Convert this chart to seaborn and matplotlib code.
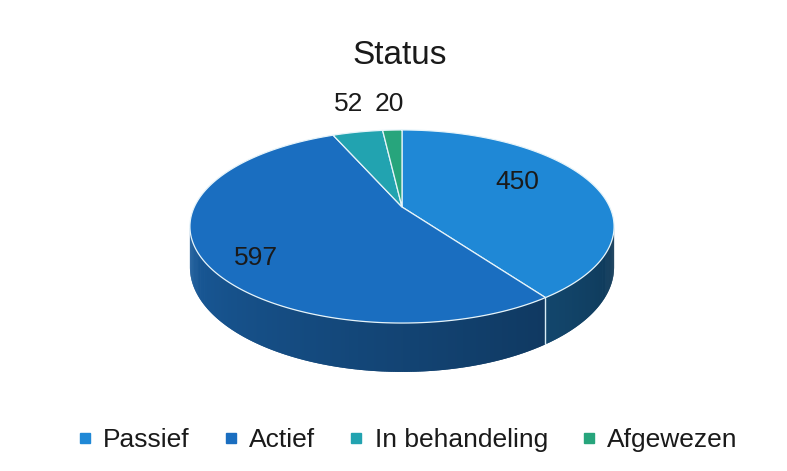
import numpy as np
import matplotlib.pyplot as plt
from matplotlib.patches import Polygon
from matplotlib.lines import Line2D
import seaborn as sns

# data
categories = ["Passief", "Actief", "In behandeling", "Afgewezen"]
values = [450, 597, 52, 20]
top_colors = ["#1f88d6", "#1a6ec0", "#22a3b0", "#27a57c"]
title = "Status"

sns.set_theme(style="white")
plt.rcParams['font.family'] = ['Liberation Sans', 'DejaVu Sans']

fig = plt.figure(figsize=(7.87, 4.71), dpi=100)
ax = fig.add_axes([0, 0, 1, 1])
ax.set_xlim(0, 787)
ax.set_ylim(471, 0)
ax.axis('off')

# pie geometry in pixel space, simple perspective (front wider than back)
cx, cy, a, b, k, h = 402, 207, 207.7, 92.6, 0.202, 39


def rim(theta, drop=0.0):
    t = np.radians(theta)
    u, w = np.cos(t), np.sin(t)
    s = 1.0 / (1.0 + k * w)
    return cx + a * u * s, cy - b * w * s + drop * h * s


total = sum(values)
angles = 90 - 360 * np.cumsum([0] + values) / total
sil_lo = -180 + np.degrees(np.arcsin(k))   # silhouette of the side
sil_hi = -np.degrees(np.arcsin(k))

# side of the cylinder
for i, col in enumerate(top_colors):
    lo, hi = max(angles[i + 1], sil_lo), min(angles[i], sil_hi)
    if lo >= hi:
        continue
    steps = np.linspace(lo, hi, int((hi - lo) / 0.5) + 2)
    base = np.array(sns.desaturate(col, 0.95))
    for j, (t1, t2) in enumerate(zip(steps[:-1], steps[1:])):
        tm = (t1 + t2) / 2
        f = 0.4 + 0.43 * (-tm - 12) / 156
        c = np.clip(base * f, 0, 1)
        t2e = min(t2 + 0.5, hi)
        x1, y1 = rim(t1)
        x2, y2 = rim(t2e)
        x3, y3 = rim(t2e, 1)
        x4, y4 = rim(t1, 1)
        ax.add_patch(Polygon([(x1, y1), (x2, y2), (x3, y3), (x4, y4)],
                             closed=True, facecolor=c, edgecolor="none", lw=0))
    if sil_lo < angles[i] < sil_hi:
        x, y = rim(angles[i])
        x2, y2 = rim(angles[i], 1)
        ax.plot([x, x2], [y, y2], color="#d8ecf5", lw=1)

# top face
for i, col in enumerate(top_colors):
    th = np.linspace(angles[i], angles[i + 1], 200)
    xs, ys = rim(th)
    pts = [(cx, cy)] + list(zip(xs, ys))
    ax.add_patch(Polygon(pts, closed=True, facecolor=col, edgecolor="#e6f4fa", lw=0.9))

# value labels
label_pos = [(517, 182), (256, 258), (349, 104), (389, 104)]
for v, (x, y) in zip(values, label_pos):
    ax.text(x, y, str(v), ha="center", va="center", fontsize=19, color="#1a1a1a")

ax.text(400, 55, title, ha="center", va="center", fontsize=24, color="#1a1a1a")

handles = [Line2D([], [], marker="s", linestyle="none", markersize=7,
                  markerfacecolor=c, markeredgecolor=c) for c in top_colors]
leg = fig.legend(handles, categories, loc="center", bbox_to_anchor=(0.516, 0.066),
                 ncol=4, frameon=False, fontsize=19, handletextpad=0.3,
                 columnspacing=1.15, handlelength=0.8)
for t in leg.get_texts():
    t.set_color("#1a1a1a")

fig.savefig("out.png", dpi=100, facecolor="white")
